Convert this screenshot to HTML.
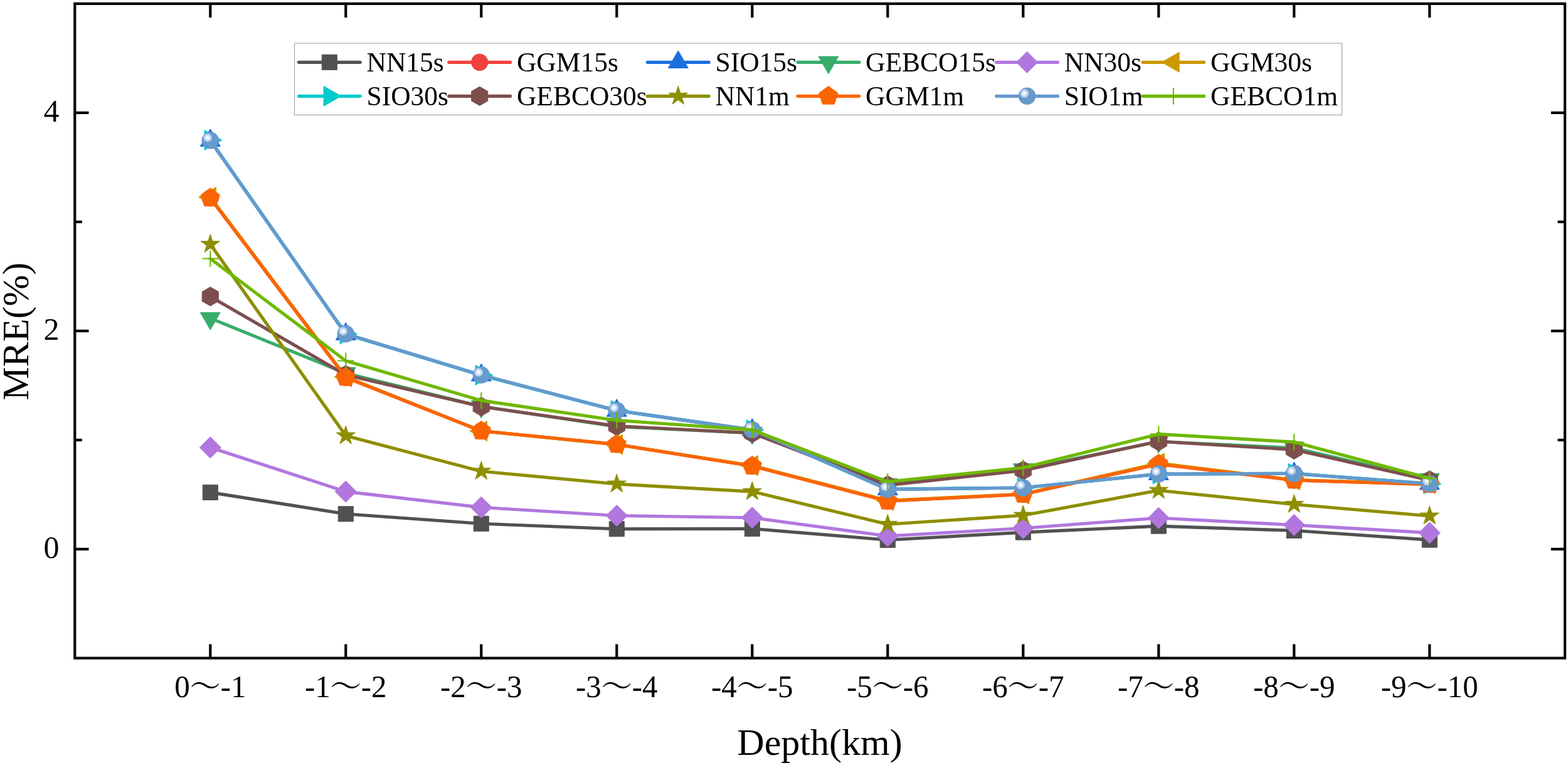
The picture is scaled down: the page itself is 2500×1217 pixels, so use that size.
<!DOCTYPE html>
<html lang="en">
<head>
<meta charset="utf-8">
<title>MRE vs Depth</title>
<style>
html,body{margin:0;padding:0;background:#fff;}
body{width:2500px;height:1217px;overflow:hidden;}
svg{display:block;}
text{white-space:pre;}
</style>
</head>
<body>
<svg width="2500" height="1217" viewBox="0 0 2500 1217">
<rect x="0" y="0" width="2500" height="1217" fill="#fff"/>
<g>
<polyline points="335.3,785.4 551.3,819.8 767.3,835.2 983.3,843.7 1199.3,843.3 1415.3,861.3 1631.3,849.1 1847.3,839.1 2063.3,846.3 2279.3,861.1" fill="none" stroke="#515151" stroke-width="5.15" stroke-linejoin="round" stroke-linecap="round"/>
<polygon points="323.25,773.35 347.35,773.35 347.35,797.45 323.25,797.45" fill="#515151" stroke="#515151" stroke-width="1" stroke-linejoin="round"/>
<polygon points="539.25,807.75 563.35,807.75 563.35,831.85 539.25,831.85" fill="#515151" stroke="#515151" stroke-width="1" stroke-linejoin="round"/>
<polygon points="755.25,823.15 779.35,823.15 779.35,847.25 755.25,847.25" fill="#515151" stroke="#515151" stroke-width="1" stroke-linejoin="round"/>
<polygon points="971.25,831.65 995.35,831.65 995.35,855.75 971.25,855.75" fill="#515151" stroke="#515151" stroke-width="1" stroke-linejoin="round"/>
<polygon points="1187.25,831.25 1211.35,831.25 1211.35,855.35 1187.25,855.35" fill="#515151" stroke="#515151" stroke-width="1" stroke-linejoin="round"/>
<polygon points="1403.25,849.25 1427.35,849.25 1427.35,873.35 1403.25,873.35" fill="#515151" stroke="#515151" stroke-width="1" stroke-linejoin="round"/>
<polygon points="1619.25,837.05 1643.35,837.05 1643.35,861.15 1619.25,861.15" fill="#515151" stroke="#515151" stroke-width="1" stroke-linejoin="round"/>
<polygon points="1835.25,827.05 1859.35,827.05 1859.35,851.15 1835.25,851.15" fill="#515151" stroke="#515151" stroke-width="1" stroke-linejoin="round"/>
<polygon points="2051.25,834.25 2075.35,834.25 2075.35,858.35 2051.25,858.35" fill="#515151" stroke="#515151" stroke-width="1" stroke-linejoin="round"/>
<polygon points="2267.25,849.05 2291.35,849.05 2291.35,873.15 2267.25,873.15" fill="#515151" stroke="#515151" stroke-width="1" stroke-linejoin="round"/>
</g>
<g>
<polyline points="335.3,316 551.3,602.2 767.3,687.5 983.3,708.9 1199.3,743.3 1415.3,799.3 1631.3,788.5 1847.3,740.3 2063.3,766 2279.3,772.5" fill="none" stroke="#F14040" stroke-width="5.15" stroke-linejoin="round" stroke-linecap="round"/>
<circle cx="335.3" cy="316" r="13.6" fill="#F14040"/>
<circle cx="551.3" cy="602.2" r="13.6" fill="#F14040"/>
<circle cx="767.3" cy="687.5" r="13.6" fill="#F14040"/>
<circle cx="983.3" cy="708.9" r="13.6" fill="#F14040"/>
<circle cx="1199.3" cy="743.3" r="13.6" fill="#F14040"/>
<circle cx="1415.3" cy="799.3" r="13.6" fill="#F14040"/>
<circle cx="1631.3" cy="788.5" r="13.6" fill="#F14040"/>
<circle cx="1847.3" cy="740.3" r="13.6" fill="#F14040"/>
<circle cx="2063.3" cy="766" r="13.6" fill="#F14040"/>
<circle cx="2279.3" cy="772.5" r="13.6" fill="#F14040"/>
</g>
<g>
<polyline points="335.3,224.2 551.3,533 767.3,598.6 983.3,655 1199.3,686 1415.3,780.4 1631.3,778 1847.3,756.2 2063.3,755.4 2279.3,771.6" fill="none" stroke="#1A6FDF" stroke-width="5.15" stroke-linejoin="round" stroke-linecap="round"/>
<polygon points="335.3,205.75 351.28,233.42 319.32,233.42" fill="#1A6FDF" stroke="#1A6FDF" stroke-width="1" stroke-linejoin="round"/>
<polygon points="551.3,514.55 567.28,542.23 535.32,542.23" fill="#1A6FDF" stroke="#1A6FDF" stroke-width="1" stroke-linejoin="round"/>
<polygon points="767.3,580.15 783.28,607.83 751.32,607.83" fill="#1A6FDF" stroke="#1A6FDF" stroke-width="1" stroke-linejoin="round"/>
<polygon points="983.3,636.55 999.28,664.23 967.32,664.23" fill="#1A6FDF" stroke="#1A6FDF" stroke-width="1" stroke-linejoin="round"/>
<polygon points="1199.3,667.55 1215.28,695.23 1183.32,695.23" fill="#1A6FDF" stroke="#1A6FDF" stroke-width="1" stroke-linejoin="round"/>
<polygon points="1415.3,761.95 1431.28,789.62 1399.32,789.62" fill="#1A6FDF" stroke="#1A6FDF" stroke-width="1" stroke-linejoin="round"/>
<polygon points="1631.3,759.55 1647.28,787.23 1615.32,787.23" fill="#1A6FDF" stroke="#1A6FDF" stroke-width="1" stroke-linejoin="round"/>
<polygon points="1847.3,737.75 1863.28,765.43 1831.32,765.43" fill="#1A6FDF" stroke="#1A6FDF" stroke-width="1" stroke-linejoin="round"/>
<polygon points="2063.3,736.95 2079.28,764.62 2047.32,764.62" fill="#1A6FDF" stroke="#1A6FDF" stroke-width="1" stroke-linejoin="round"/>
<polygon points="2279.3,753.15 2295.28,780.83 2263.32,780.83" fill="#1A6FDF" stroke="#1A6FDF" stroke-width="1" stroke-linejoin="round"/>
</g>
<g>
<polyline points="335.3,507.7 551.3,595.3 767.3,648.3 983.3,680.5 1199.3,690.6 1415.3,772.4 1631.3,748.6 1847.3,704.3 2063.3,714.5 2279.3,764.4" fill="none" stroke="#37AD6B" stroke-width="5.15" stroke-linejoin="round" stroke-linecap="round"/>
<polygon points="335.3,526.15 319.32,498.47 351.28,498.47" fill="#37AD6B" stroke="#37AD6B" stroke-width="1" stroke-linejoin="round"/>
<polygon points="551.3,613.75 535.32,586.07 567.28,586.07" fill="#37AD6B" stroke="#37AD6B" stroke-width="1" stroke-linejoin="round"/>
<polygon points="767.3,666.75 751.32,639.07 783.28,639.07" fill="#37AD6B" stroke="#37AD6B" stroke-width="1" stroke-linejoin="round"/>
<polygon points="983.3,698.95 967.32,671.27 999.28,671.27" fill="#37AD6B" stroke="#37AD6B" stroke-width="1" stroke-linejoin="round"/>
<polygon points="1199.3,709.05 1183.32,681.38 1215.28,681.38" fill="#37AD6B" stroke="#37AD6B" stroke-width="1" stroke-linejoin="round"/>
<polygon points="1415.3,790.85 1399.32,763.17 1431.28,763.17" fill="#37AD6B" stroke="#37AD6B" stroke-width="1" stroke-linejoin="round"/>
<polygon points="1631.3,767.05 1615.32,739.38 1647.28,739.38" fill="#37AD6B" stroke="#37AD6B" stroke-width="1" stroke-linejoin="round"/>
<polygon points="1847.3,722.75 1831.32,695.07 1863.28,695.07" fill="#37AD6B" stroke="#37AD6B" stroke-width="1" stroke-linejoin="round"/>
<polygon points="2063.3,732.95 2047.32,705.27 2079.28,705.27" fill="#37AD6B" stroke="#37AD6B" stroke-width="1" stroke-linejoin="round"/>
<polygon points="2279.3,782.85 2263.32,755.17 2295.28,755.17" fill="#37AD6B" stroke="#37AD6B" stroke-width="1" stroke-linejoin="round"/>
</g>
<g>
<polyline points="335.3,713.8 551.3,784.1 767.3,809.2 983.3,822.5 1199.3,825.7 1415.3,855 1631.3,842.5 1847.3,826.2 2063.3,837.4 2279.3,849.9" fill="none" stroke="#B177DE" stroke-width="5.15" stroke-linejoin="round" stroke-linecap="round"/>
<polygon points="335.3,696.75 352.35,713.8 335.3,730.85 318.25,713.8" fill="#B177DE" stroke="#B177DE" stroke-width="1" stroke-linejoin="round"/>
<polygon points="551.3,767.05 568.35,784.1 551.3,801.15 534.25,784.1" fill="#B177DE" stroke="#B177DE" stroke-width="1" stroke-linejoin="round"/>
<polygon points="767.3,792.15 784.35,809.2 767.3,826.25 750.25,809.2" fill="#B177DE" stroke="#B177DE" stroke-width="1" stroke-linejoin="round"/>
<polygon points="983.3,805.45 1000.35,822.5 983.3,839.55 966.25,822.5" fill="#B177DE" stroke="#B177DE" stroke-width="1" stroke-linejoin="round"/>
<polygon points="1199.3,808.65 1216.35,825.7 1199.3,842.75 1182.25,825.7" fill="#B177DE" stroke="#B177DE" stroke-width="1" stroke-linejoin="round"/>
<polygon points="1415.3,837.95 1432.35,855 1415.3,872.05 1398.25,855" fill="#B177DE" stroke="#B177DE" stroke-width="1" stroke-linejoin="round"/>
<polygon points="1631.3,825.45 1648.35,842.5 1631.3,859.55 1614.25,842.5" fill="#B177DE" stroke="#B177DE" stroke-width="1" stroke-linejoin="round"/>
<polygon points="1847.3,809.15 1864.35,826.2 1847.3,843.25 1830.25,826.2" fill="#B177DE" stroke="#B177DE" stroke-width="1" stroke-linejoin="round"/>
<polygon points="2063.3,820.35 2080.35,837.4 2063.3,854.45 2046.25,837.4" fill="#B177DE" stroke="#B177DE" stroke-width="1" stroke-linejoin="round"/>
<polygon points="2279.3,832.85 2296.35,849.9 2279.3,866.95 2262.25,849.9" fill="#B177DE" stroke="#B177DE" stroke-width="1" stroke-linejoin="round"/>
</g>
<g>
<polyline points="335.3,314.5 551.3,601.2 767.3,687.5 983.3,709.1 1199.3,742.6 1415.3,798.3 1631.3,788 1847.3,738.8 2063.3,765.5 2279.3,771.5" fill="none" stroke="#CC9900" stroke-width="5.15" stroke-linejoin="round" stroke-linecap="round"/>
<polygon points="316.85,314.5 344.53,298.52 344.52,330.48" fill="#CC9900" stroke="#CC9900" stroke-width="1" stroke-linejoin="round"/>
<polygon points="532.85,601.2 560.52,585.22 560.52,617.18" fill="#CC9900" stroke="#CC9900" stroke-width="1" stroke-linejoin="round"/>
<polygon points="748.85,687.5 776.52,671.52 776.52,703.48" fill="#CC9900" stroke="#CC9900" stroke-width="1" stroke-linejoin="round"/>
<polygon points="964.85,709.1 992.52,693.12 992.52,725.08" fill="#CC9900" stroke="#CC9900" stroke-width="1" stroke-linejoin="round"/>
<polygon points="1180.85,742.6 1208.52,726.62 1208.52,758.58" fill="#CC9900" stroke="#CC9900" stroke-width="1" stroke-linejoin="round"/>
<polygon points="1396.85,798.3 1424.52,782.32 1424.52,814.28" fill="#CC9900" stroke="#CC9900" stroke-width="1" stroke-linejoin="round"/>
<polygon points="1612.85,788 1640.52,772.02 1640.52,803.98" fill="#CC9900" stroke="#CC9900" stroke-width="1" stroke-linejoin="round"/>
<polygon points="1828.85,738.8 1856.52,722.82 1856.52,754.78" fill="#CC9900" stroke="#CC9900" stroke-width="1" stroke-linejoin="round"/>
<polygon points="2044.85,765.5 2072.53,749.52 2072.53,781.48" fill="#CC9900" stroke="#CC9900" stroke-width="1" stroke-linejoin="round"/>
<polygon points="2260.85,771.5 2288.53,755.52 2288.53,787.48" fill="#CC9900" stroke="#CC9900" stroke-width="1" stroke-linejoin="round"/>
</g>
<g>
<polyline points="335.3,223.5 551.3,532.7 767.3,598.4 983.3,654.8 1199.3,685.6 1415.3,780.4 1631.3,778 1847.3,756 2063.3,755.2 2279.3,771.6" fill="none" stroke="#00CBCC" stroke-width="5.15" stroke-linejoin="round" stroke-linecap="round"/>
<polygon points="353.75,223.5 326.07,239.48 326.07,207.52" fill="#00CBCC" stroke="#00CBCC" stroke-width="1" stroke-linejoin="round"/>
<polygon points="569.75,532.7 542.07,548.68 542.07,516.72" fill="#00CBCC" stroke="#00CBCC" stroke-width="1" stroke-linejoin="round"/>
<polygon points="785.75,598.4 758.07,614.38 758.07,582.42" fill="#00CBCC" stroke="#00CBCC" stroke-width="1" stroke-linejoin="round"/>
<polygon points="1001.75,654.8 974.07,670.78 974.07,638.82" fill="#00CBCC" stroke="#00CBCC" stroke-width="1" stroke-linejoin="round"/>
<polygon points="1217.75,685.6 1190.08,701.58 1190.08,669.62" fill="#00CBCC" stroke="#00CBCC" stroke-width="1" stroke-linejoin="round"/>
<polygon points="1433.75,780.4 1406.08,796.38 1406.08,764.42" fill="#00CBCC" stroke="#00CBCC" stroke-width="1" stroke-linejoin="round"/>
<polygon points="1649.75,778 1622.08,793.98 1622.08,762.02" fill="#00CBCC" stroke="#00CBCC" stroke-width="1" stroke-linejoin="round"/>
<polygon points="1865.75,756 1838.08,771.98 1838.08,740.02" fill="#00CBCC" stroke="#00CBCC" stroke-width="1" stroke-linejoin="round"/>
<polygon points="2081.75,755.2 2054.08,771.18 2054.08,739.22" fill="#00CBCC" stroke="#00CBCC" stroke-width="1" stroke-linejoin="round"/>
<polygon points="2297.75,771.6 2270.08,787.58 2270.08,755.62" fill="#00CBCC" stroke="#00CBCC" stroke-width="1" stroke-linejoin="round"/>
</g>
<g>
<polyline points="335.3,472.9 551.3,598 767.3,648.5 983.3,679.5 1199.3,690.8 1415.3,773.9 1631.3,750.4 1847.3,704 2063.3,717.3 2279.3,765.9" fill="none" stroke="#7D4E4E" stroke-width="5.15" stroke-linejoin="round" stroke-linecap="round"/>
<polygon points="335.3,457.8 348.38,465.35 348.38,480.45 335.3,488 322.22,480.45 322.22,465.35" fill="#7D4E4E" stroke="#7D4E4E" stroke-width="1" stroke-linejoin="round"/>
<polygon points="551.3,582.9 564.38,590.45 564.38,605.55 551.3,613.1 538.22,605.55 538.22,590.45" fill="#7D4E4E" stroke="#7D4E4E" stroke-width="1" stroke-linejoin="round"/>
<polygon points="767.3,633.4 780.38,640.95 780.38,656.05 767.3,663.6 754.22,656.05 754.22,640.95" fill="#7D4E4E" stroke="#7D4E4E" stroke-width="1" stroke-linejoin="round"/>
<polygon points="983.3,664.4 996.38,671.95 996.38,687.05 983.3,694.6 970.22,687.05 970.22,671.95" fill="#7D4E4E" stroke="#7D4E4E" stroke-width="1" stroke-linejoin="round"/>
<polygon points="1199.3,675.7 1212.38,683.25 1212.38,698.35 1199.3,705.9 1186.22,698.35 1186.22,683.25" fill="#7D4E4E" stroke="#7D4E4E" stroke-width="1" stroke-linejoin="round"/>
<polygon points="1415.3,758.8 1428.38,766.35 1428.38,781.45 1415.3,789 1402.22,781.45 1402.22,766.35" fill="#7D4E4E" stroke="#7D4E4E" stroke-width="1" stroke-linejoin="round"/>
<polygon points="1631.3,735.3 1644.38,742.85 1644.38,757.95 1631.3,765.5 1618.22,757.95 1618.22,742.85" fill="#7D4E4E" stroke="#7D4E4E" stroke-width="1" stroke-linejoin="round"/>
<polygon points="1847.3,688.9 1860.38,696.45 1860.38,711.55 1847.3,719.1 1834.22,711.55 1834.22,696.45" fill="#7D4E4E" stroke="#7D4E4E" stroke-width="1" stroke-linejoin="round"/>
<polygon points="2063.3,702.2 2076.38,709.75 2076.38,724.85 2063.3,732.4 2050.22,724.85 2050.22,709.75" fill="#7D4E4E" stroke="#7D4E4E" stroke-width="1" stroke-linejoin="round"/>
<polygon points="2279.3,750.8 2292.38,758.35 2292.38,773.45 2279.3,781 2266.22,773.45 2266.22,758.35" fill="#7D4E4E" stroke="#7D4E4E" stroke-width="1" stroke-linejoin="round"/>
</g>
<g>
<polyline points="335.3,389.6 551.3,695 767.3,751.7 983.3,772 1199.3,784.1 1415.3,836.3 1631.3,822 1847.3,782.2 2063.3,804.5 2279.3,823" fill="none" stroke="#8E8E00" stroke-width="5.15" stroke-linejoin="round" stroke-linecap="round"/>
<polygon points="335.3,373.7 338.87,384.69 350.42,384.69 341.08,391.48 344.65,402.46 335.3,395.67 325.95,402.46 329.52,391.48 320.18,384.69 331.73,384.69" fill="#8E8E00" stroke="#8E8E00" stroke-width="1" stroke-linejoin="round"/>
<polygon points="551.3,679.1 554.87,690.09 566.42,690.09 557.08,696.88 560.65,707.86 551.3,701.07 541.95,707.86 545.52,696.88 536.18,690.09 547.73,690.09" fill="#8E8E00" stroke="#8E8E00" stroke-width="1" stroke-linejoin="round"/>
<polygon points="767.3,735.8 770.87,746.79 782.42,746.79 773.08,753.58 776.65,764.56 767.3,757.77 757.95,764.56 761.52,753.58 752.18,746.79 763.73,746.79" fill="#8E8E00" stroke="#8E8E00" stroke-width="1" stroke-linejoin="round"/>
<polygon points="983.3,756.1 986.87,767.09 998.42,767.09 989.08,773.88 992.65,784.86 983.3,778.07 973.95,784.86 977.52,773.88 968.18,767.09 979.73,767.09" fill="#8E8E00" stroke="#8E8E00" stroke-width="1" stroke-linejoin="round"/>
<polygon points="1199.3,768.2 1202.87,779.19 1214.42,779.19 1205.08,785.98 1208.65,796.96 1199.3,790.17 1189.95,796.96 1193.52,785.98 1184.18,779.19 1195.73,779.19" fill="#8E8E00" stroke="#8E8E00" stroke-width="1" stroke-linejoin="round"/>
<polygon points="1415.3,820.4 1418.87,831.39 1430.42,831.39 1421.08,838.18 1424.65,849.16 1415.3,842.37 1405.95,849.16 1409.52,838.18 1400.18,831.39 1411.73,831.39" fill="#8E8E00" stroke="#8E8E00" stroke-width="1" stroke-linejoin="round"/>
<polygon points="1631.3,806.1 1634.87,817.09 1646.42,817.09 1637.08,823.88 1640.65,834.86 1631.3,828.07 1621.95,834.86 1625.52,823.88 1616.18,817.09 1627.73,817.09" fill="#8E8E00" stroke="#8E8E00" stroke-width="1" stroke-linejoin="round"/>
<polygon points="1847.3,766.3 1850.87,777.29 1862.42,777.29 1853.08,784.08 1856.65,795.06 1847.3,788.27 1837.95,795.06 1841.52,784.08 1832.18,777.29 1843.73,777.29" fill="#8E8E00" stroke="#8E8E00" stroke-width="1" stroke-linejoin="round"/>
<polygon points="2063.3,788.6 2066.87,799.59 2078.42,799.59 2069.08,806.38 2072.65,817.36 2063.3,810.57 2053.95,817.36 2057.52,806.38 2048.18,799.59 2059.73,799.59" fill="#8E8E00" stroke="#8E8E00" stroke-width="1" stroke-linejoin="round"/>
<polygon points="2279.3,807.1 2282.87,818.09 2294.42,818.09 2285.08,824.88 2288.65,835.86 2279.3,829.07 2269.95,835.86 2273.52,824.88 2264.18,818.09 2275.73,818.09" fill="#8E8E00" stroke="#8E8E00" stroke-width="1" stroke-linejoin="round"/>
</g>
<g>
<polyline points="335.3,315.8 551.3,602 767.3,687.3 983.3,708.8 1199.3,743.3 1415.3,799.2 1631.3,788.3 1847.3,740.2 2063.3,765.9 2279.3,772.8" fill="none" stroke="#FB6501" stroke-width="5.15" stroke-linejoin="round" stroke-linecap="round"/>
<polygon points="335.3,299.9 350.42,310.89 344.65,328.66 325.95,328.66 320.18,310.89" fill="#FB6501" stroke="#FB6501" stroke-width="1" stroke-linejoin="round"/>
<polygon points="551.3,586.1 566.42,597.09 560.65,614.86 541.95,614.86 536.18,597.09" fill="#FB6501" stroke="#FB6501" stroke-width="1" stroke-linejoin="round"/>
<polygon points="767.3,671.4 782.42,682.39 776.65,700.16 757.95,700.16 752.18,682.39" fill="#FB6501" stroke="#FB6501" stroke-width="1" stroke-linejoin="round"/>
<polygon points="983.3,692.9 998.42,703.89 992.65,721.66 973.95,721.66 968.18,703.89" fill="#FB6501" stroke="#FB6501" stroke-width="1" stroke-linejoin="round"/>
<polygon points="1199.3,727.4 1214.42,738.39 1208.65,756.16 1189.95,756.16 1184.18,738.39" fill="#FB6501" stroke="#FB6501" stroke-width="1" stroke-linejoin="round"/>
<polygon points="1415.3,783.3 1430.42,794.29 1424.65,812.06 1405.95,812.06 1400.18,794.29" fill="#FB6501" stroke="#FB6501" stroke-width="1" stroke-linejoin="round"/>
<polygon points="1631.3,772.4 1646.42,783.39 1640.65,801.16 1621.95,801.16 1616.18,783.39" fill="#FB6501" stroke="#FB6501" stroke-width="1" stroke-linejoin="round"/>
<polygon points="1847.3,724.3 1862.42,735.29 1856.65,753.06 1837.95,753.06 1832.18,735.29" fill="#FB6501" stroke="#FB6501" stroke-width="1" stroke-linejoin="round"/>
<polygon points="2063.3,750 2078.42,760.99 2072.65,778.76 2053.95,778.76 2048.18,760.99" fill="#FB6501" stroke="#FB6501" stroke-width="1" stroke-linejoin="round"/>
<polygon points="2279.3,756.9 2294.42,767.89 2288.65,785.66 2269.95,785.66 2264.18,767.89" fill="#FB6501" stroke="#FB6501" stroke-width="1" stroke-linejoin="round"/>
</g>
<g>
<polyline points="335.3,224 551.3,532.5 767.3,598.1 983.3,654.7 1199.3,685.4 1415.3,780.6 1631.3,778 1847.3,756.1 2063.3,755.2 2279.3,771.8" fill="none" stroke="#6699CC" stroke-width="5.15" stroke-linejoin="round" stroke-linecap="round"/>
<circle cx="335.3" cy="224" r="13.75" fill="#6699CC"/><circle cx="331.1" cy="219.7" r="6.9" fill="#B3CDEA"/><circle cx="331.1" cy="219.7" r="4.4" fill="#DBE9F8"/><circle cx="331.1" cy="219.7" r="2.1" fill="#FFFFFF"/>
<circle cx="551.3" cy="532.5" r="13.75" fill="#6699CC"/><circle cx="547.1" cy="528.2" r="6.9" fill="#B3CDEA"/><circle cx="547.1" cy="528.2" r="4.4" fill="#DBE9F8"/><circle cx="547.1" cy="528.2" r="2.1" fill="#FFFFFF"/>
<circle cx="767.3" cy="598.1" r="13.75" fill="#6699CC"/><circle cx="763.1" cy="593.8" r="6.9" fill="#B3CDEA"/><circle cx="763.1" cy="593.8" r="4.4" fill="#DBE9F8"/><circle cx="763.1" cy="593.8" r="2.1" fill="#FFFFFF"/>
<circle cx="983.3" cy="654.7" r="13.75" fill="#6699CC"/><circle cx="979.1" cy="650.4" r="6.9" fill="#B3CDEA"/><circle cx="979.1" cy="650.4" r="4.4" fill="#DBE9F8"/><circle cx="979.1" cy="650.4" r="2.1" fill="#FFFFFF"/>
<circle cx="1199.3" cy="685.4" r="13.75" fill="#6699CC"/><circle cx="1195.1" cy="681.1" r="6.9" fill="#B3CDEA"/><circle cx="1195.1" cy="681.1" r="4.4" fill="#DBE9F8"/><circle cx="1195.1" cy="681.1" r="2.1" fill="#FFFFFF"/>
<circle cx="1415.3" cy="780.6" r="13.75" fill="#6699CC"/><circle cx="1411.1" cy="776.3" r="6.9" fill="#B3CDEA"/><circle cx="1411.1" cy="776.3" r="4.4" fill="#DBE9F8"/><circle cx="1411.1" cy="776.3" r="2.1" fill="#FFFFFF"/>
<circle cx="1631.3" cy="778" r="13.75" fill="#6699CC"/><circle cx="1627.1" cy="773.7" r="6.9" fill="#B3CDEA"/><circle cx="1627.1" cy="773.7" r="4.4" fill="#DBE9F8"/><circle cx="1627.1" cy="773.7" r="2.1" fill="#FFFFFF"/>
<circle cx="1847.3" cy="756.1" r="13.75" fill="#6699CC"/><circle cx="1843.1" cy="751.8" r="6.9" fill="#B3CDEA"/><circle cx="1843.1" cy="751.8" r="4.4" fill="#DBE9F8"/><circle cx="1843.1" cy="751.8" r="2.1" fill="#FFFFFF"/>
<circle cx="2063.3" cy="755.2" r="13.75" fill="#6699CC"/><circle cx="2059.1" cy="750.9" r="6.9" fill="#B3CDEA"/><circle cx="2059.1" cy="750.9" r="4.4" fill="#DBE9F8"/><circle cx="2059.1" cy="750.9" r="2.1" fill="#FFFFFF"/>
<circle cx="2279.3" cy="771.8" r="13.75" fill="#6699CC"/><circle cx="2275.1" cy="767.5" r="6.9" fill="#B3CDEA"/><circle cx="2275.1" cy="767.5" r="4.4" fill="#DBE9F8"/><circle cx="2275.1" cy="767.5" r="2.1" fill="#FFFFFF"/>
</g>
<g>
<polyline points="335.3,412.5 551.3,575.5 767.3,638.9 983.3,670.5 1199.3,685.6 1415.3,768.4 1631.3,746 1847.3,692.4 2063.3,705.1 2279.3,763" fill="none" stroke="#6FB802" stroke-width="5.15" stroke-linejoin="round" stroke-linecap="round"/>
<path d="M322.2 412.5H348.4M335.3 399.4V425.6" stroke="#6FB802" stroke-width="2.1" fill="none"/>
<path d="M538.2 575.5H564.4M551.3 562.4V588.6" stroke="#6FB802" stroke-width="2.1" fill="none"/>
<path d="M754.2 638.9H780.4M767.3 625.8V652" stroke="#6FB802" stroke-width="2.1" fill="none"/>
<path d="M970.2 670.5H996.4M983.3 657.4V683.6" stroke="#6FB802" stroke-width="2.1" fill="none"/>
<path d="M1186.2 685.6H1212.4M1199.3 672.5V698.7" stroke="#6FB802" stroke-width="2.1" fill="none"/>
<path d="M1402.2 768.4H1428.4M1415.3 755.3V781.5" stroke="#6FB802" stroke-width="2.1" fill="none"/>
<path d="M1618.2 746H1644.4M1631.3 732.9V759.1" stroke="#6FB802" stroke-width="2.1" fill="none"/>
<path d="M1834.2 692.4H1860.4M1847.3 679.3V705.5" stroke="#6FB802" stroke-width="2.1" fill="none"/>
<path d="M2050.2 705.1H2076.4M2063.3 692V718.2" stroke="#6FB802" stroke-width="2.1" fill="none"/>
<path d="M2266.2 763H2292.4M2279.3 749.9V776.1" stroke="#6FB802" stroke-width="2.1" fill="none"/>
</g>
<g stroke="#000" stroke-width="4.2" fill="none" stroke-linecap="butt">
<rect x="119.3" y="5.9" width="2375.8" height="1043.8"/>
<path d="M335.3 1049.7V1027.5M335.3 5.9V28.1M551.3 1049.7V1027.5M551.3 5.9V28.1M767.3 1049.7V1027.5M767.3 5.9V28.1M983.3 1049.7V1027.5M983.3 5.9V28.1M1199.3 1049.7V1027.5M1199.3 5.9V28.1M1415.3 1049.7V1027.5M1415.3 5.9V28.1M1631.3 1049.7V1027.5M1631.3 5.9V28.1M1847.3 1049.7V1027.5M1847.3 5.9V28.1M2063.3 1049.7V1027.5M2063.3 5.9V28.1M2279.3 1049.7V1027.5M2279.3 5.9V28.1M119.3 875.85H141.5M2495.1 875.85H2472.9M119.3 527.85H141.5M2495.1 527.85H2472.9M119.3 179.85H141.5M2495.1 179.85H2472.9M119.3 701.85H130.8M2495.1 701.85H2483.6M119.3 353.85H130.8M2495.1 353.85H2483.6"/>
</g>
<g font-family="'Liberation Serif','Noto Serif CJK SC',serif" font-size="50" fill="#000">
<text transform="translate(335.3 1112) scale(0.98 1)" text-anchor="middle">0～-1</text>
<text transform="translate(551.3 1112) scale(0.98 1)" text-anchor="middle">-1～-2</text>
<text transform="translate(767.3 1112) scale(0.98 1)" text-anchor="middle">-2～-3</text>
<text transform="translate(983.3 1112) scale(0.98 1)" text-anchor="middle">-3～-4</text>
<text transform="translate(1199.3 1112) scale(0.98 1)" text-anchor="middle">-4～-5</text>
<text transform="translate(1415.3 1112) scale(0.98 1)" text-anchor="middle">-5～-6</text>
<text transform="translate(1631.3 1112) scale(0.98 1)" text-anchor="middle">-6～-7</text>
<text transform="translate(1847.3 1112) scale(0.98 1)" text-anchor="middle">-7～-8</text>
<text transform="translate(2063.3 1112) scale(0.98 1)" text-anchor="middle">-8～-9</text>
<text transform="translate(2279.3 1112) scale(0.98 1)" text-anchor="middle">-9～-10</text>
<text x="94.4" y="890.45" text-anchor="end">0</text>
<text x="94.4" y="542.45" text-anchor="end">2</text>
<text x="94.4" y="194.45" text-anchor="end">4</text>
</g>
<text x="1307" y="1204" text-anchor="middle" font-family="'Liberation Serif','Noto Serif CJK SC',serif" font-size="60" fill="#000">Depth(km)</text>
<text transform="translate(44.8 528.5) rotate(-90)" text-anchor="middle" font-family="'Liberation Serif','Noto Serif CJK SC',serif" font-size="60" fill="#000">MRE(%)</text>
<rect x="469.5" y="69" width="1670.1" height="114.4" fill="#fff" stroke="#9a9a9a" stroke-width="1"/>
<g font-family="'Liberation Serif','Noto Serif CJK SC',serif" font-size="43.5" fill="#000">
<line x1="476.38" y1="99.3" x2="574.22" y2="99.3" stroke="#515151" stroke-width="5.15" stroke-linecap="round"/>
<polygon points="513.25,87.25 537.35,87.25 537.35,111.35 513.25,111.35" fill="#515151" stroke="#515151" stroke-width="1" stroke-linejoin="round"/>
<text x="584.5" y="114">NN15s</text>
<line x1="715.78" y1="99.3" x2="813.62" y2="99.3" stroke="#F14040" stroke-width="5.15" stroke-linecap="round"/>
<circle cx="764.7" cy="99.3" r="13.6" fill="#F14040"/>
<text x="823.9" y="114">GGM15s</text>
<line x1="1032.38" y1="99.3" x2="1130.22" y2="99.3" stroke="#1A6FDF" stroke-width="5.15" stroke-linecap="round"/>
<polygon points="1081.3,80.85 1097.28,108.52 1065.32,108.52" fill="#1A6FDF" stroke="#1A6FDF" stroke-width="1" stroke-linejoin="round"/>
<text x="1140.5" y="114">SIO15s</text>
<line x1="1271.98" y1="99.3" x2="1369.83" y2="99.3" stroke="#37AD6B" stroke-width="5.15" stroke-linecap="round"/>
<polygon points="1320.9,117.75 1304.92,90.07 1336.88,90.07" fill="#37AD6B" stroke="#37AD6B" stroke-width="1" stroke-linejoin="round"/>
<text x="1380.1" y="114">GEBCO15s</text>
<line x1="1588.58" y1="99.3" x2="1686.42" y2="99.3" stroke="#B177DE" stroke-width="5.15" stroke-linecap="round"/>
<polygon points="1637.5,82.25 1654.55,99.3 1637.5,116.35 1620.45,99.3" fill="#B177DE" stroke="#B177DE" stroke-width="1" stroke-linejoin="round"/>
<text x="1696.7" y="114">NN30s</text>
<line x1="1821.98" y1="99.3" x2="1919.83" y2="99.3" stroke="#CC9900" stroke-width="5.15" stroke-linecap="round"/>
<polygon points="1852.45,99.3 1880.12,83.32 1880.12,115.28" fill="#CC9900" stroke="#CC9900" stroke-width="1" stroke-linejoin="round"/>
<text x="1930.1" y="114">GGM30s</text>
<line x1="476.38" y1="153.3" x2="574.22" y2="153.3" stroke="#00CBCC" stroke-width="5.15" stroke-linecap="round"/>
<polygon points="543.75,153.3 516.07,169.28 516.07,137.32" fill="#00CBCC" stroke="#00CBCC" stroke-width="1" stroke-linejoin="round"/>
<text x="584.5" y="167.6">SIO30s</text>
<line x1="715.78" y1="153.3" x2="813.62" y2="153.3" stroke="#7D4E4E" stroke-width="5.15" stroke-linecap="round"/>
<polygon points="764.7,138.2 777.78,145.75 777.78,160.85 764.7,168.4 751.62,160.85 751.62,145.75" fill="#7D4E4E" stroke="#7D4E4E" stroke-width="1" stroke-linejoin="round"/>
<text x="823.9" y="167.6">GEBCO30s</text>
<line x1="1032.38" y1="153.3" x2="1130.22" y2="153.3" stroke="#8E8E00" stroke-width="5.15" stroke-linecap="round"/>
<polygon points="1081.3,137.4 1084.87,148.39 1096.42,148.39 1087.08,155.18 1090.65,166.16 1081.3,159.37 1071.95,166.16 1075.52,155.18 1066.18,148.39 1077.73,148.39" fill="#8E8E00" stroke="#8E8E00" stroke-width="1" stroke-linejoin="round"/>
<text x="1140.5" y="167.6">NN1m</text>
<line x1="1271.98" y1="153.3" x2="1369.83" y2="153.3" stroke="#FB6501" stroke-width="5.15" stroke-linecap="round"/>
<polygon points="1320.9,137.4 1336.02,148.39 1330.25,166.16 1311.55,166.16 1305.78,148.39" fill="#FB6501" stroke="#FB6501" stroke-width="1" stroke-linejoin="round"/>
<text x="1380.1" y="167.6">GGM1m</text>
<line x1="1588.58" y1="153.3" x2="1686.42" y2="153.3" stroke="#6699CC" stroke-width="5.15" stroke-linecap="round"/>
<circle cx="1637.5" cy="153.3" r="13.75" fill="#6699CC"/><circle cx="1633.3" cy="149" r="6.9" fill="#B3CDEA"/><circle cx="1633.3" cy="149" r="4.4" fill="#DBE9F8"/><circle cx="1633.3" cy="149" r="2.1" fill="#FFFFFF"/>
<text x="1696.7" y="167.6">SIO1m</text>
<line x1="1821.98" y1="153.3" x2="1919.83" y2="153.3" stroke="#6FB802" stroke-width="5.15" stroke-linecap="round"/>
<path d="M1857.8 153.3H1884M1870.9 140.2V166.4" stroke="#6FB802" stroke-width="2.1" fill="none"/>
<text x="1930.1" y="167.6">GEBCO1m</text>
</g>
</svg>
</body>
</html>
